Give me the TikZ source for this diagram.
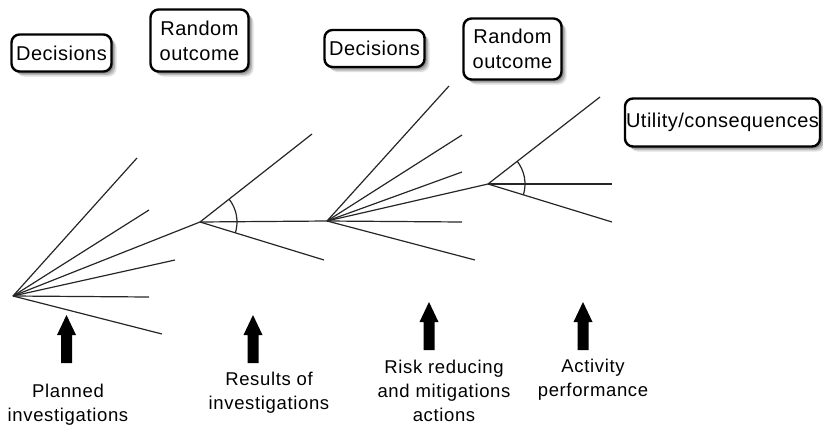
\documentclass[tikz,border=0pt]{standalone}
\usepackage{fontspec}
\setmainfont{Liberation Sans}
\newfontfamily\boxfont[LetterSpace=2.5]{Liberation Sans}
\newfontfamily\lblfont[LetterSpace=3.5]{Liberation Sans}
\usetikzlibrary{shadows}
\begin{document}
\begin{tikzpicture}[x=1pt,y=-1pt,
  branch/.style={line width=1.2pt, black!85},
  infobox/.style={draw=black, line width=2.4pt, rounded corners=8pt, fill=white,
    align=center, inner sep=2pt,
    font=\boxfont\fontsize{20}{25}\selectfont,
    drop shadow={fill=black, opacity=0.12, shadow xshift=5pt, shadow yshift=-5pt},
    drop shadow={fill=black, opacity=0.18, shadow xshift=3.5pt, shadow yshift=-3.5pt},
    drop shadow={fill=black, opacity=0.22, shadow xshift=2pt, shadow yshift=-2pt}},
  lbl/.style={align=center, font=\lblfont\fontsize{18.5}{24}\selectfont},
  uparrow/.style={fill=black, draw=none}]
\useasboundingbox (0,0) rectangle (823,429);
% tree vertices
\coordinate (A) at (13,296);
\coordinate (B) at (200,222);
\coordinate (C) at (327,221);
\coordinate (D) at (488,184);
% leaves of A
\coordinate (a1) at (137,158);
\coordinate (a2) at (149,210);
\coordinate (a3) at (175,260);
\coordinate (a4) at (149,297);
\coordinate (a5) at (162,334);
% leaves of B
\coordinate (b1) at (312,134);
\coordinate (b2) at (324,260);
% leaves of C
\coordinate (c1) at (449,86);
\coordinate (c2) at (462,135);
\coordinate (c3) at (462,172);
\coordinate (c4) at (462,222);
\coordinate (c5) at (475,260);
% leaves of D
\coordinate (d1) at (600,97);
\coordinate (d2) at (612,184);
\coordinate (d3) at (612,222);
% branches
\foreach \t in {a1,a2,B,a3,a4,a5} \draw[branch] (A) -- (\t);
\foreach \t in {b1,C,b2} \draw[branch] (B) -- (\t);
\foreach \t in {c1,c2,c3,D,c4,c5} \draw[branch] (C) -- (\t);
\foreach \t in {d1,d2,d3} \draw[branch] (D) -- (\t);
% chance arcs
\draw[branch] ([shift={(38:37pt)}]B) arc[start angle=38, end angle=-17, radius=37pt];
\draw[branch] ([shift={(38:37pt)}]D) arc[start angle=38, end angle=-17, radius=37pt];
% boxes
\node[infobox, minimum width=100pt, minimum height=37pt] (dec1) at (61.5,53) {Decisions};
\node[infobox, minimum width=98pt, minimum height=62pt] (ro1) at (199.5,40.5) {Random\\outcome};
\node[infobox, minimum width=100pt, minimum height=37pt] (dec2) at (374.5,48.5) {Decisions};
\node[infobox, minimum width=98pt, minimum height=61pt] (ro2) at (512.5,49) {Random\\outcome};
\node[infobox, minimum width=195pt, minimum height=48pt, inner sep=1pt] (util) at (722.5,122.5) {Utility/consequences};
% block arrows
\foreach \n/\x/\y in {ar1/66.5/315, ar2/253/315, ar3/429/302, ar4/583/302}{
  \coordinate (\n) at (\x,\y);
  \fill[uparrow] (\n) -- ++(9.5,20) -- ++(-4,0) -- ++(0,28) -- ++(-11,0) -- ++(0,-28) -- ++(-4,0) -- cycle;
}
% labels
\node[lbl] (l1) at (68,405) {Planned\\investigations};
\node[lbl] (l2) at (269,393) {Results of\\investigations};
\node[lbl] (l3) at (444,391) {Risk reducing\\and mitigations\\actions};
\node[lbl] (l4) at (593,380) {Activity\\performance};
\end{tikzpicture}
\end{document}
